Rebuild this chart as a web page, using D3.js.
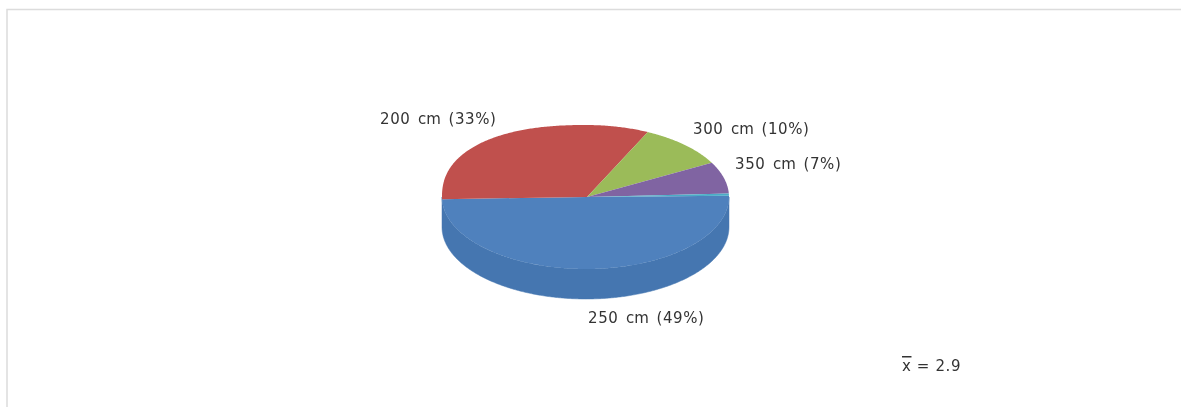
<!DOCTYPE html>
<html><head><meta charset="utf-8">
<script src="https://cdnjs.cloudflare.com/ajax/libs/d3/7.8.5/d3.min.js"></script>
<style>html,body{margin:0;padding:0;background:#fff;overflow:hidden}svg{display:block;filter:blur(0.45px)}
text{font-family:"DejaVu Sans",sans-serif;font-size:15px;fill:#333;letter-spacing:.6px}
.lab{word-spacing:2.2px}
.unit{letter-spacing:0}</style></head><body>
<svg id="c" width="1181" height="407"></svg>
<script>
const categories = ["250","200","300","350","400"];
const unit = "cm";
const shares = [49.8,32.6,10,7.1,0.5];
const shownPercent = ["49%","33%","10%","7%",""];
const colors = ["#4F81BD","#C0504D","#9BBB59","#8064A2","#4BACC6"];
const sideColors = ["#4576B0","#A94643","#88A54E","#70588F","#4297AE"];
const meanLabel = "2.9";

const W=1181,H=407,cx=586,cy=197,rxRight=143,rxLeft=144,ry=72,depth=30,startDeg=89,upperLeftPower=2/2.3,apexX=1;
const labelAt = [[588,323],[380,124],[693,134],[735,169],null];
const svg=d3.select("#c");
svg.append("rect").attr("x",7).attr("y",9.5).attr("width",W+20).attr("height",H+20)
  .attr("fill","#fff").attr("stroke","#dcdcdc").attr("stroke-width",1.5);

const pie=d3.pie().sort(null).value(d=>d)
  .startAngle(startDeg*Math.PI/180).endAngle((startDeg+360)*Math.PI/180);
const arcs=pie(shares);

const g=svg.append("g").attr("transform",`translate(${cx},${cy})`);
const upperLeft=a=>Math.sin(a)<0&&Math.cos(a)>0;
const px=a=>{const s=Math.sin(a);
  if(s>=0) return rxRight*s;
  return upperLeft(a)?-rxLeft*Math.pow(-s,upperLeftPower):rxLeft*s;};
const py=a=>{const c=Math.cos(a);
  return upperLeft(a)?-ry*Math.pow(c,upperLeftPower):-ry*c;};
const samples=(s,e)=>d3.range(s,e,0.01).concat([e]);
// side wall: the front half of the rim, in the colour of the slice that fills it
const frontStart=Math.PI/2, frontEnd=3*Math.PI/2;
const overlap=a=>Math.max(0,Math.min(a.endAngle,frontEnd)-Math.max(a.startAngle,frontStart));
const frontSlice=d3.greatestIndex(arcs,overlap);
const wall=d3.area().x(d=>px(d)).y0(d=>py(d)).y1(d=>py(d)+depth);
g.append("path").attr("class","side")
  .attr("d",wall(samples(frontStart,frontEnd)))
  .attr("fill",sideColors[frontSlice]).attr("stroke",sideColors[frontSlice]).attr("stroke-width",.5);
// top face
const rim=d3.line().x(d=>d==null?apexX:px(d)).y(d=>d==null?0:py(d));
g.selectAll("path.top").data(arcs).join("path").attr("class","top")
  .attr("d",d=>rim([null,...samples(d.startAngle,d.endAngle),null])+"Z")
  .attr("fill",(d,i)=>colors[i]);
// labels
labelAt.forEach((p,i)=>{ if(!p) return;
  const t=svg.append("text").attr("class","lab").attr("x",p[0]).attr("y",p[1]);
  t.append("tspan").text(categories[i]+"\u00a0");
  t.append("tspan").attr("class","unit").text(unit);
  t.append("tspan").text(`\u00a0(${shownPercent[i]})`);
});
const m=svg.append("text").attr("x",902).attr("y",371);
m.append("tspan").style("text-decoration","overline").text("x");
m.append("tspan").text(`\u00a0=\u00a0${meanLabel}`);
</script></body></html>
